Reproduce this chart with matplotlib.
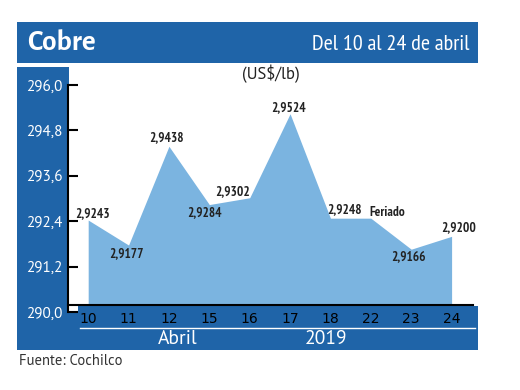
import matplotlib
matplotlib.use('Agg')
import matplotlib.pyplot as plt
from matplotlib.patches import Rectangle
from matplotlib.lines import Line2D

# datos
dias = ['10', '11', '12', '15', '16', '17', '18', '22', '23', '24']
precios = [292.43, 291.77, 294.38, 292.84, 293.02, 295.24, 292.48, 292.48, 291.66, 292.00]
etiquetas = ['2,9243', '2,9177', '2,9438', '2,9284', '2,9302', '2,9524', '2,9248', 'Feriado', '2,9166', '2,9200']
y_ticks = [290.0, 291.2, 292.4, 293.6, 294.8, 296.0]
y_tick_labels = ['290,0', '291,2', '292,4', '293,6', '294,8', '296,0']

# offsets de etiquetas (pt)
offs = [(3, 5), (-1.5, -6), (-2, 6), (-3.5, -6), (-12, 4.5), (-1, 4.5), (10, 6), (12, 4), (-2, -5.5), (5, 6)]

W, H = 520, 390
azul = '#1f64a8'
celeste = '#7bb4e0'
narrow = ['PT Sans Narrow', 'DejaVu Sans']
sans = ['PT Sans', 'DejaVu Sans']

fig = plt.figure(figsize=(5.2, 3.9), dpi=100)


def rect(x1, y1, x2, y2, color):
    r = Rectangle((x1 / W, 1 - y2 / H), (x2 - x1) / W, (y2 - y1) / H,
                  transform=fig.transFigure, color=color, zorder=0, lw=0)
    fig.add_artist(r)


# bandas azules
rect(17, 22, 478, 63, azul)
rect(17, 67, 69, 350, azul)
rect(78, 306, 478, 350, azul)
rect(17, 313, 478, 350, azul)

fig.text(27 / W, 1 - 42 / H, 'Cobre', color='white', fontsize=21, fontweight='bold',
         family=['Alegreya Sans', 'DejaVu Sans'], va='center', ha='left')
fig.text(470 / W, 1 - 44 / H, 'Del 10 al 24 de abril', color='white', fontsize=16,
         family=narrow, va='center', ha='right')

ax = fig.add_axes([68 / W, 1 - 312 / H, (473 - 68) / W, (312 - 85) / H])
ax.set_facecolor('none')

x = list(range(len(dias)))
base = 290.18
ax.fill_between(x, precios, base, color=celeste, lw=0)

for i, (v, t) in enumerate(zip(precios, etiquetas)):
    ax.annotate(t, (i, v), xytext=offs[i], textcoords='offset points',
                ha='center', va='center', fontsize=9.5, family=narrow,
                fontweight='bold', color='#222222')

ax.set_xlim(-0.5, 9.53)
ax.set_ylim(290, 296)
ax.set_yticks(y_ticks)
ax.set_yticklabels(y_tick_labels, family=sans, fontsize=11, color='white')
ax.tick_params(axis='y', direction='in', length=7, width=1.5, pad=4)
ax.set_xticks(x)
ax.set_xticklabels(dias, family=sans, fontsize=11, color='white')
ax.tick_params(axis='x', length=0, pad=5)

for s in ['top', 'right']:
    ax.spines[s].set_visible(False)
ax.spines['left'].set_linewidth(1.5)
ax.spines['bottom'].set_linewidth(1.5)
ax.spines['bottom'].set_position(('data', base))

ax.text(0.5, 1.05, '(US$/lb)', transform=ax.transAxes, ha='center', va='center',
        fontsize=12, family=sans, color='#222222')

fig.add_artist(Line2D([80 / W, 475 / W], [1 - 328 / H] * 2, transform=fig.transFigure,
                      color='white', lw=1, zorder=1))
fig.text(178 / W, 1 - 339 / H, 'Abril', color='white', fontsize=14, family=sans,
         ha='center', va='center')
fig.text(326 / W, 1 - 339 / H, '2019', color='white', fontsize=14, family=sans,
         ha='center', va='center')
fig.text(19 / W, 1 - 361 / H, 'Fuente: Cochilco', color='#333333', fontsize=10.5,
         family=sans, ha='left', va='center')

fig.savefig('out.png', dpi=100)
